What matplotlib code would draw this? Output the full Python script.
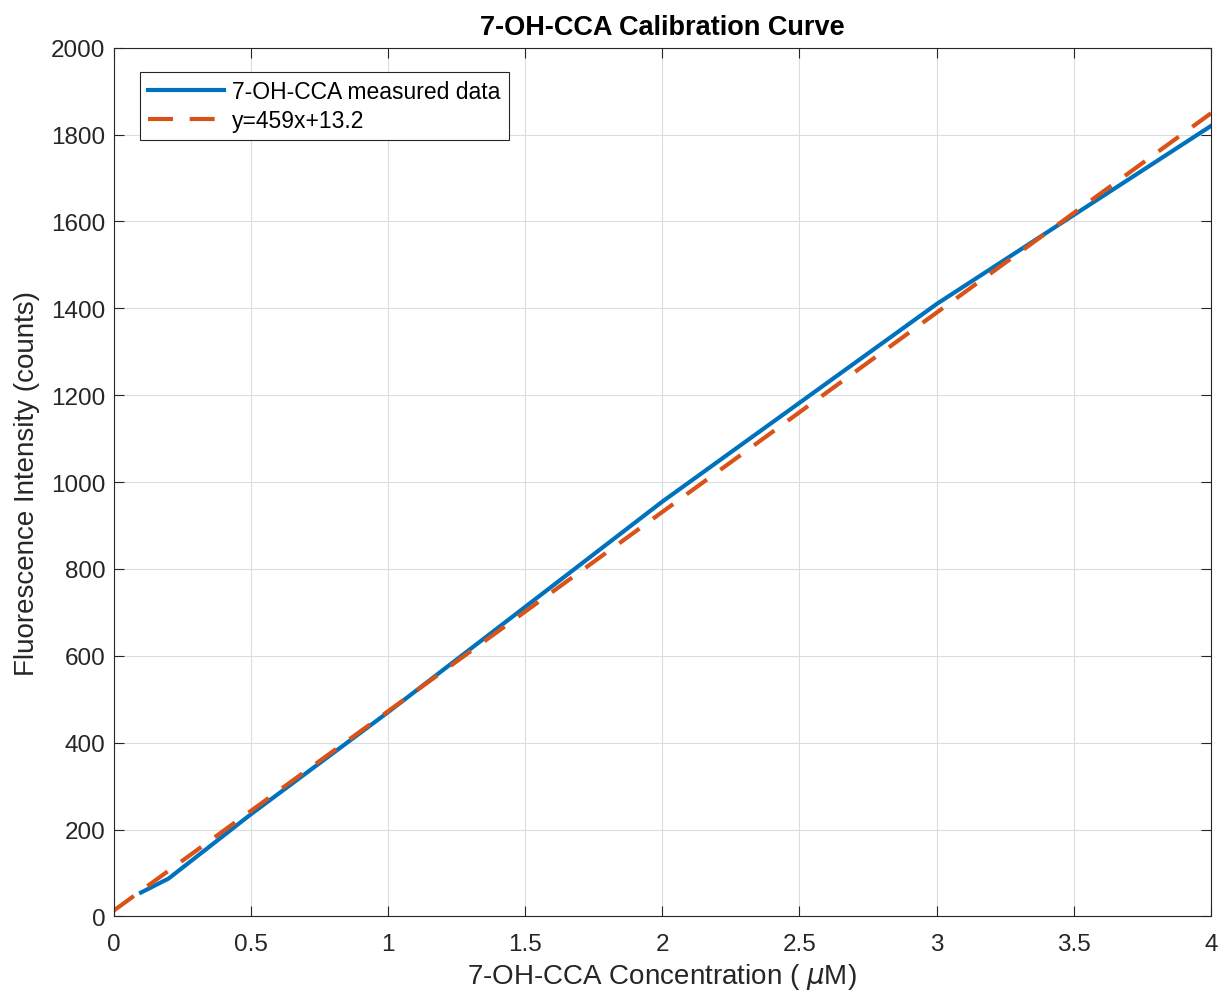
import numpy as np
import matplotlib.pyplot as plt

plt.rcParams['font.family'] = ['Liberation Sans', 'DejaVu Sans']

# measured calibration data
conc = [0.1, 0.2, 0.5, 1.0, 2.0, 3.0, 4.0]
intensity = [55, 87, 235, 470, 955, 1410, 1820]

# linear fit
slope = 459
intercept = 13.2
fit_x = np.array([0, 4])

fig = plt.figure(figsize=(12.22, 9.95), dpi=100)
ax = fig.add_axes([0.093, 0.078, 0.898, 0.873])

ax.plot(conc, intensity, color='#0072BD', lw=3.0, label='7-OH-CCA measured data')
ax.plot(fit_x, slope * fit_x + intercept, color='#D95319', lw=3.0, ls=(0, (6, 4)),
        label='y=459x+13.2')

ax.set_xlim(0, 4)
ax.set_ylim(0, 2000)
ax.set_xticks(np.arange(0, 4.01, 0.5))
ax.set_xticklabels(['0', '0.5', '1', '1.5', '2', '2.5', '3', '3.5', '4'])
ax.set_yticks(np.arange(0, 2001, 200))
ax.grid(True, color='#dcdcdc', lw=0.8)
ax.tick_params(direction='in', top=True, right=True, labelsize=17.5, length=7,
               color='#262626', labelcolor='#262626', pad=6)
ax.tick_params(axis='x', pad=12)
for s in ax.spines.values():
    s.set_color('#262626')
    s.set_linewidth(0.8)

ax.set_xlabel(r'7-OH-CCA Concentration ( $\mu$M)', fontsize=20, color='#262626', labelpad=4)
ax.set_ylabel('Fluorescence Intensity (counts)', fontsize=20, color='#262626', labelpad=8)
ax.set_title('7-OH-CCA Calibration Curve', fontsize=19.5, fontweight='bold', pad=10)

leg = ax.legend(loc='upper left', bbox_to_anchor=(0.014, 0.985), fontsize=16.5, fancybox=False,
                edgecolor='#262626', framealpha=1, handlelength=3.3, handletextpad=0.35,
                borderpad=0.35, labelspacing=0.25, borderaxespad=0.5)
leg.get_frame().set_linewidth(0.8)

fig.savefig('out.png')
